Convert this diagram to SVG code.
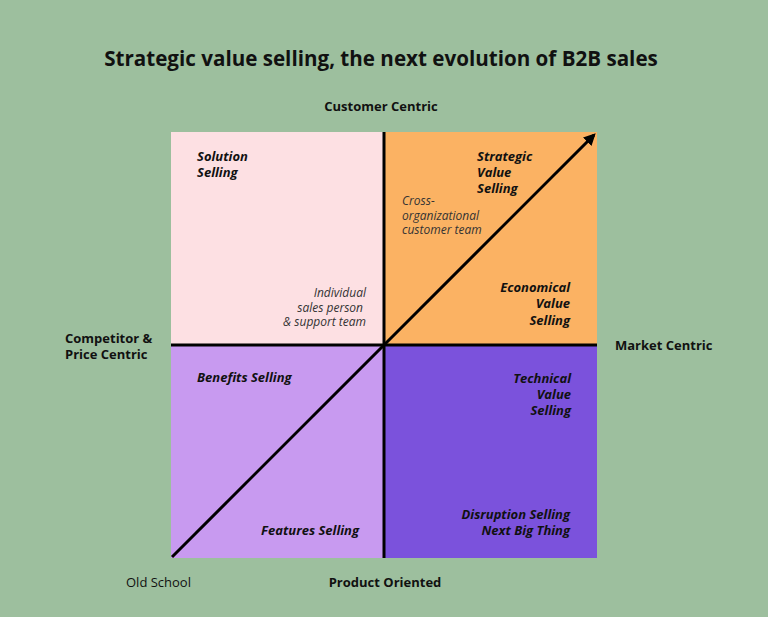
<svg xmlns="http://www.w3.org/2000/svg" width="768" height="617" viewBox="0 0 768 617">
<defs>
<style>
text{font-family:"Open Sans","Lato","Liberation Sans",sans-serif;fill:#111;}
.title{font-size:20.6px;font-weight:700;}
.axis{font-size:13px;font-weight:700;}
.axisn{font-size:13px;font-weight:400;}
.q{font-size:13px;font-weight:700;font-style:italic;}
.note{font-size:12px;font-style:italic;fill:#333;}
.line{stroke:#000;stroke-width:3;fill:none;}
</style>
<marker id="arrow" viewBox="0 0 10 10" refX="8" refY="5" markerWidth="4" markerHeight="4" orient="auto" markerUnits="strokeWidth">
<path d="M0,0 L10,5 L0,10 z" fill="#000"/>
</marker>
</defs>
<rect width="768" height="617" fill="#9dbf9e"/>
<text class="title" x="381" y="66" text-anchor="middle">Strategic value selling, the next evolution of B2B sales</text>
<g id="q-tl">
<rect x="171" y="132" width="213" height="213" fill="#fde0e3"/>
<text class="q" x="197" y="161">Solution</text>
<text class="q" x="197" y="177">Selling</text>
<text class="note" text-anchor="end" x="366" y="297">Individual</text>
<text class="note" text-anchor="end" x="363" y="312">sales person</text>
<text class="note" text-anchor="end" x="366" y="326">&amp; support team</text>
</g>
<g id="q-tr">
<rect x="384" y="132" width="213" height="213" fill="#fbb263"/>
<text class="q" x="477" y="161">Strategic</text>
<text class="q" x="477" y="177">Value</text>
<text class="q" x="477" y="193">Selling</text>
<text class="note" x="402" y="205">Cross-</text>
<text class="note" x="402" y="220">organizational</text>
<text class="note" x="402" y="234">customer team</text>
<text class="q" text-anchor="end" x="570" y="292">Economical</text>
<text class="q" text-anchor="end" x="570" y="308">Value</text>
<text class="q" text-anchor="end" x="570" y="325">Selling</text>
</g>
<g id="q-bl">
<rect x="171" y="345" width="213" height="213" fill="#c89af0"/>
<text class="q" x="197" y="382">Benefits Selling</text>
<text class="q" text-anchor="end" x="359" y="535">Features Selling</text>
</g>
<g id="q-br">
<rect x="384" y="345" width="213" height="213" fill="#7b52dc"/>
<text class="q" text-anchor="end" x="571" y="383">Technical</text>
<text class="q" text-anchor="end" x="571" y="399">Value</text>
<text class="q" text-anchor="end" x="571" y="415">Selling</text>
<text class="q" text-anchor="end" x="570" y="519">Disruption Selling</text>
<text class="q" text-anchor="end" x="570" y="535">Next Big Thing</text>
</g>
<g id="connectors">
<line class="line" x1="384" y1="132" x2="384" y2="558"/>
<line class="line" x1="171" y1="345" x2="597" y2="345"/>
<line class="line" x1="172" y1="557" x2="594" y2="135" marker-end="url(#arrow)"/>
</g>
<g id="labels">
<text class="axis" x="381" y="111" text-anchor="middle">Customer Centric</text>
<text class="axis" x="65" y="343">Competitor &amp;</text>
<text class="axis" x="65" y="359">Price Centric</text>
<text class="axis" x="615" y="350">Market Centric</text>
<text class="axisn" x="126" y="587">Old School</text>
<text class="axis" x="385" y="587" text-anchor="middle">Product Oriented</text>
</g>
</svg>
